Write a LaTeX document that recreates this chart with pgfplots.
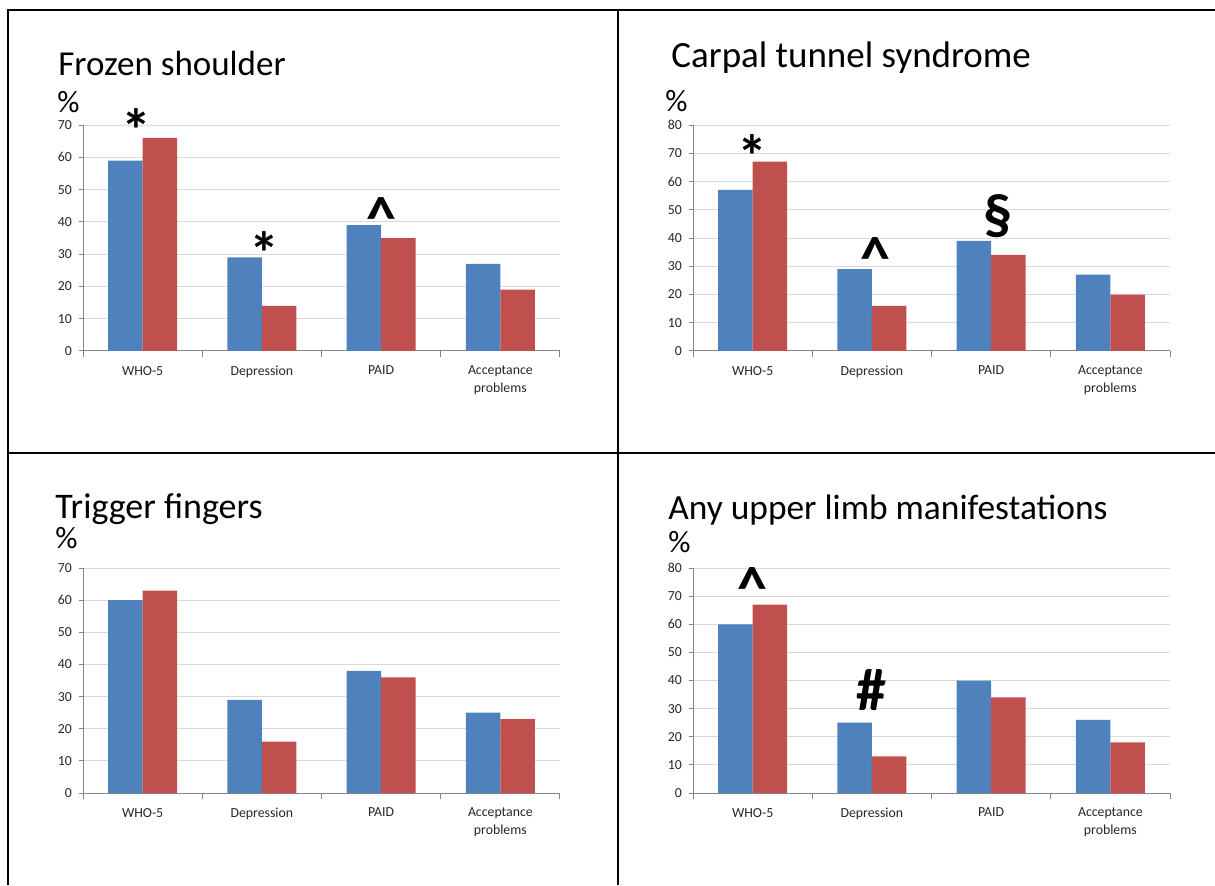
\documentclass[border=0pt]{standalone}
\usepackage{fontspec}
\setmainfont{Carlito}
\usepackage{pgfplots}
\pgfplotsset{compat=1.18}
\definecolor{xblue}{HTML}{4F81BD}
\definecolor{xred}{HTML}{C0504D}
\definecolor{gridc}{HTML}{D9D9D9}
\definecolor{axc}{HTML}{868686}
\pgfplotsset{panel/.style={
  scale only axis, width=238.5pt, height=113pt, anchor=south west,
  axis lines=left, axis line style={-, draw=axc, line width=0.5pt},
  xmin=-0.5, xmax=3.5, ymin=0,
  xtick={0,1,2,3}, xticklabels={WHO-5,Depression,PAID,{Acceptance\\problems}},
  minor xtick={-0.5,0.5,1.5,2.5,3.5},
  major x tick style={draw=none},
  tick align=outside, major tick length=2pt, minor tick length=3pt,
  tick style={draw=axc, line width=0.5pt},
  ymajorgrids, major grid style={draw=gridc, line width=0.5pt},
  ytick distance=10,
  /pgf/number format/assume math mode=true,
  ticklabel style={font=\fontsize{6.9}{9}\selectfont, text=black!85},
  xticklabel style={align=center, yshift=-2pt},
  ybar, bar width=0.29, clip=false,
}}
\tikzset{
 ast/.style={font=\bfseries\fontsize{30}{32}\selectfont, inner sep=0pt, yshift=-5.5pt},
 car/.style={font=\bfseries\fontsize{30}{32}\selectfont, inner sep=0pt, yshift=-2.5pt},
 sec/.style={font=\bfseries\fontsize{29}{31}\selectfont, inner sep=0pt, yshift=1pt},
 hsh/.style={font=\bfseries\fontsize{30}{32}\selectfont, inner sep=0pt},
 ttl/.style={anchor=base west, inner sep=0pt},
 pct/.style={font=\fontsize{15.5}{17}\selectfont, anchor=base west, inner sep=0pt}}
\begin{document}
\begin{tikzpicture}
\useasboundingbox (0,0) rectangle (607.5pt,442.5pt);
% frame
\draw[line width=1pt] (4.15pt,0) -- (4.15pt,437.5pt) -- (607.5pt,437.5pt);
\draw[line width=1pt] (309.15pt,0) -- (309.15pt,437.5pt);
\draw[line width=1pt] (4.15pt,216.25pt) -- (607.5pt,216.25pt);
% Panel 1
\begin{axis}[panel, at={(41.5pt,267pt)}, ymax=70]
\addplot[fill=xblue, draw=none, bar shift=-0.145] coordinates {(0,59) (1,29) (2,39) (3,27)};
\addplot[fill=xred, draw=none, bar shift=0.145] coordinates {(0,66) (1,14) (2,35) (3,19)};
\node[ast] at (axis cs:-0.05,71.8) {*};
\node[ast] at (axis cs:1.02,33.8) {*};
\node[car] at (axis cs:2.0,42.7) {\^{}};
\end{axis}
% Panel 2
\begin{axis}[panel, at={(346.5pt,267pt)}, ymax=80]
\addplot[fill=xblue, draw=none, bar shift=-0.145] coordinates {(0,57) (1,29) (2,39) (3,27)};
\addplot[fill=xred, draw=none, bar shift=0.145] coordinates {(0,67) (1,16) (2,34) (3,20)};
\node[ast] at (axis cs:0,72.9) {*};
\node[car] at (axis cs:1.03,34.7) {\^{}};
\node[sec] at (axis cs:2.06,47.1) {§};
\end{axis}
% Panel 3
\begin{axis}[panel, at={(41.5pt,46pt)}, ymax=70, height=112.5pt]
\addplot[fill=xblue, draw=none, bar shift=-0.145] coordinates {(0,60) (1,29) (2,38) (3,25)};
\addplot[fill=xred, draw=none, bar shift=0.145] coordinates {(0,63) (1,16) (2,36) (3,23)};
\end{axis}
% Panel 4
\begin{axis}[panel, at={(346.5pt,46pt)}, ymax=80, height=112.5pt]
\addplot[fill=xblue, draw=none, bar shift=-0.145] coordinates {(0,60) (1,25) (2,40) (3,26)};
\addplot[fill=xred, draw=none, bar shift=0.145] coordinates {(0,67) (1,13) (2,34) (3,18)};
\node[car] at (axis cs:0,74.7) {\^{}};
\node[hsh] at (axis cs:1.0,36.6) {\#};
\end{axis}
% titles
\node[ttl, font=\fontsize{17.5}{20}\selectfont] at (29pt,404.65pt) {Frozen shoulder};
\node[ttl, font=\fontsize{18.5}{20}\selectfont] at (335.5pt,408.85pt) {Carpal tunnel syndrome};
\node[ttl, font=\fontsize{18}{20}\selectfont] at (27.5pt,183.5pt) {Trigger fingers};
\node[ttl, font=\fontsize{17.7}{20}\selectfont] at (334pt,183pt) {Any upper limb manifestations};
\node[pct] at (28.5pt,386pt) {\%};
\node[pct] at (332.5pt,386.5pt) {\%};
\node[pct] at (27.5pt,168.5pt) {\%};
\node[pct] at (334pt,166.5pt) {\%};
\end{tikzpicture}
\end{document}
